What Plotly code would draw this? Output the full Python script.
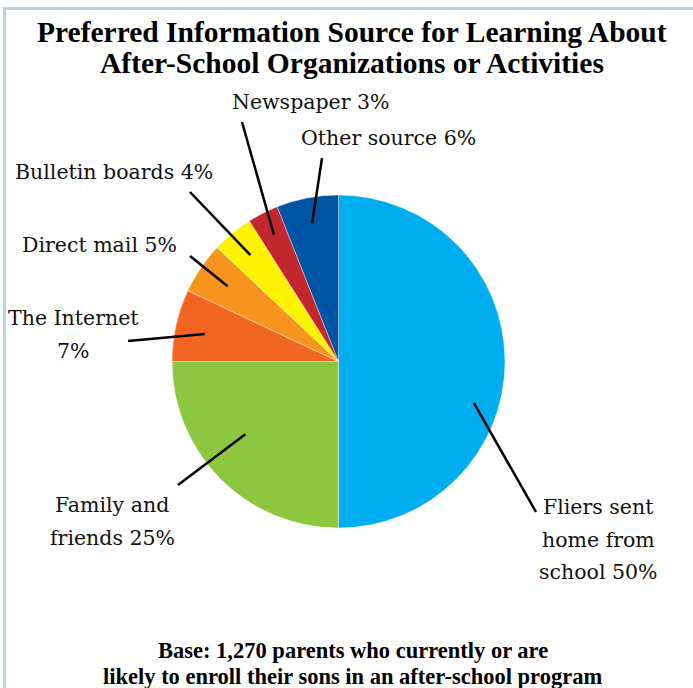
import math
import plotly.graph_objects as go

# Survey shares, clockwise from 12 o'clock
sources = ["Fliers sent home from school", "Family and friends", "The Internet",
           "Direct mail", "Bulletin boards", "Newspaper", "Other source"]
shares = [50, 25, 7, 5, 4, 3, 6]
colors = ["#00AEEF", "#8DC63F", "#F26522", "#F7941D", "#FFF200", "#C1272D", "#0054A6"]

# Callout text lines for each slice
label_lines = [
    ["Fliers sent", "home from", "school 50%"],
    ["Family and", "friends 25%"],
    ["The Internet", "7%"],
    ["Direct mail 5%"],
    ["Bulletin boards 4%"],
    ["Newspaper 3%"],
    ["Other source 6%"],
]

W, H = 693, 688
# Pie placement in pixels
CX, CY, R = 338.5, 361.5, 166.5

# Label anchor (pixel centre of first line), line step, leader-line outer end,
# leader inner radius fraction and angular nudge within slice
label_pos = [(598, 507), (112, 505), (73, 318), (100, 245), (114, 172), (311, 102), (388, 138)]
line_step = 32.5
leader_outer = [(536, 512), (178, 485), (128, 341), (190, 256), (190, 192), (242, 122), (322, 158)]
leader_rfrac = [0.85, 0.71, 0.82, 0.805, 0.83, 0.855, 0.845]
leader_nudge = [17, 7, -1, 0, 0, 0, 0]


def px(x):
    return x / W


def py(y):
    return 1 - y / H


fig = go.Figure(go.Pie(
    labels=sources, values=shares, sort=False, direction="clockwise", rotation=0,
    marker=dict(colors=colors, line=dict(color="white", width=0.4)),
    textinfo="none", hoverinfo="label+percent", showlegend=False,
    domain=dict(x=[px(CX - R), px(CX + R)], y=[py(CY + R), py(CY - R)]),
))

shapes = []
annotations = []
total = sum(shares)
cum = 0
for i, v in enumerate(shares):
    mid = (cum + v / 2) / total * 360 + leader_nudge[i]
    cum += v
    t = math.radians(mid)
    ix = CX + leader_rfrac[i] * R * math.sin(t)
    iy = CY - leader_rfrac[i] * R * math.cos(t)
    ox, oy = leader_outer[i]
    shapes.append(dict(type="line", xref="paper", yref="paper",
                       x0=px(ix), y0=py(iy), x1=px(ox), y1=py(oy),
                       line=dict(color="black", width=2.5)))
    lx, ly = label_pos[i]
    for k, txt in enumerate(label_lines[i]):
        annotations.append(dict(text=txt, xref="paper", yref="paper",
                                x=px(lx), y=py(ly + k * line_step),
                                xanchor="center", yanchor="middle", showarrow=False,
                                font=dict(family="DejaVu Serif", size=20.5, color="#111111")))

# Title and base note
title_lines = [("Preferred Information Source for Learning About", 32),
               ("After-School Organizations or Activities", 63)]
for txt, y in title_lines:
    annotations.append(dict(text=f"<b>{txt}</b>", xref="paper", yref="paper",
                            x=px(351.5), y=py(y), xanchor="center", yanchor="middle",
                            showarrow=False,
                            font=dict(family="Liberation Serif", size=29.5, color="black")))

note_lines = [("Base: 1,270 parents who currently or are", 650),
              ("likely to enroll their sons in an after-school program", 676)]
for txt, y in note_lines:
    annotations.append(dict(text=f"<b>{txt}</b>", xref="paper", yref="paper",
                            x=px(352.5), y=py(y), xanchor="center", yanchor="middle",
                            showarrow=False,
                            font=dict(family="Liberation Serif", size=22.5, color="black")))

# Frame along the top and left edges
frame = dict(color="#B9D2E3", width=3)
shapes.append(dict(type="line", xref="paper", yref="paper",
                   x0=px(3), y0=py(8.5), x1=1.0, y1=py(8.5), line=frame))
shapes.append(dict(type="line", xref="paper", yref="paper",
                   x0=px(4.5), y0=py(7), x1=px(4.5), y1=0.0, line=frame))

fig.update_layout(
    width=W, height=H, margin=dict(l=0, r=0, t=0, b=0),
    paper_bgcolor="white", plot_bgcolor="white",
    shapes=shapes, annotations=annotations,
)

fig.write_html("out.html")
